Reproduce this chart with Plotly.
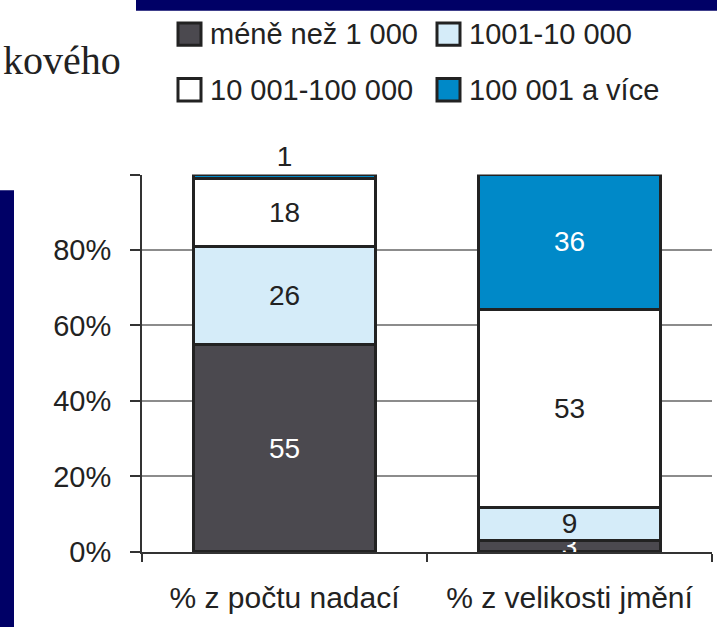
import plotly.graph_objects as go

# ---- data ----
categories = ["% z počtu nadací", "% z velikosti jmění"]
series_names = ["méně než 1 000", "1001-10 000", "10 001-100 000", "100 001 a více"]
vals_lt1000 = [55, 3]
vals_1001_10000 = [26, 9]
vals_10001_100000 = [18, 53]
vals_100001_plus = [1, 36]
ytick_vals = [0, 20, 40, 60, 80, 100]
ytick_text = ["0%", "20%", "40%", "60%", "80%", ""]

series_values = [vals_lt1000, vals_1001_10000, vals_10001_100000, vals_100001_plus]

# ---- styles ----
W, H = 717, 643
colors = ["#4b494f", "#d5ecf9", "#ffffff", "#0089c8"]
text_colors = [["white", "white"], ["#222", "#222"], ["#222", "#222"], ["#222", "white"]]
text_pos = [["inside", "inside"], ["inside", "inside"], ["inside", "inside"], ["outside", "inside"]]
FONT = "Liberation Sans, Arial, sans-serif"
NAVY = "#000066"


def px(x):
    return x / W


def py(y):
    return 1 - y / H


fig = go.Figure()
for name, vals, col, tcol, tpos in zip(series_names, series_values, colors, text_colors, text_pos):
    fig.add_trace(go.Bar(
        x=categories, y=vals, name=name,
        marker=dict(color=col, line=dict(color="#222", width=3)),
        text=[str(v) for v in vals], texttemplate="%{text}",
        textposition=tpos, textangle=0, constraintext="none",
        insidetextanchor="middle",
        textfont=dict(family=FONT, size=28, color=tcol),
        outsidetextfont=dict(family=FONT, size=28, color=tcol),
        cliponaxis=False, width=0.64, showlegend=False,
    ))

shapes = [
    dict(type="rect", xref="paper", yref="paper", x0=px(136), x1=px(W), y0=py(0), y1=py(11),
         fillcolor=NAVY, line=dict(width=0), layer="above"),
    dict(type="rect", xref="paper", yref="paper", x0=px(0), x1=px(14), y0=py(195), y1=py(H),
         fillcolor=NAVY, line=dict(width=0), layer="above"),
]
annotations = [
    dict(text="kového", x=px(1), y=py(62), xref="paper", yref="paper", xanchor="left",
         yanchor="middle", showarrow=False,
         font=dict(family="Liberation Serif, Times New Roman, serif", size=40, color="#222")),
]

# manual legend (2 x 2)
col_x = [178, 437]
row_y = [35, 92]
sq = 23
for i, (name, col) in enumerate(zip(series_names, colors)):
    x0 = col_x[i % 2]
    yc = row_y[i // 2]
    shapes.append(dict(type="rect", xref="paper", yref="paper",
                       x0=px(x0), x1=px(x0 + sq), y0=py(yc - sq / 2), y1=py(yc + sq / 2),
                       fillcolor=col, line=dict(color="#222", width=3)))
    annotations.append(dict(text=name, x=px(x0 + sq + 7), y=py(yc), xref="paper", yref="paper",
                            xanchor="left", yanchor="middle", showarrow=False,
                            font=dict(family=FONT, size=29, color="#222")))

fig.update_layout(
    width=W, height=H, autosize=False,
    margin=dict(l=0, r=0, t=0, b=0),
    paper_bgcolor="white", plot_bgcolor="white",
    barmode="stack", barnorm="percent",
    shapes=shapes, annotations=annotations,
    font=dict(family=FONT, color="#222"),
    xaxis=dict(domain=[px(142), px(712)], showline=True, linecolor="#333", linewidth=2,
               ticks="outside", tickson="boundaries", ticklen=8, tickcolor="#333", tickwidth=2,
               ticklabelstandoff=18, tickfont=dict(family=FONT, size=30, color="#222"),
               showgrid=False, fixedrange=True),
    yaxis=dict(domain=[py(566), py(179)], range=[0, 100], tickvals=ytick_vals, ticktext=ytick_text,
               showline=True, linecolor="#333", linewidth=2,
               ticks="outside", ticklen=10, tickcolor="#333", tickwidth=2,
               ticklabelstandoff=13, tickfont=dict(family=FONT, size=29, color="#222"),
               showgrid=True, gridcolor="#8c8c8c", gridwidth=1.5, zeroline=False, fixedrange=True),
)

fig.write_html(
    "out.html",
    config={"displayModeBar": False},
    post_script="document.body.style.margin='0';document.body.style.overflow='hidden';",
)
